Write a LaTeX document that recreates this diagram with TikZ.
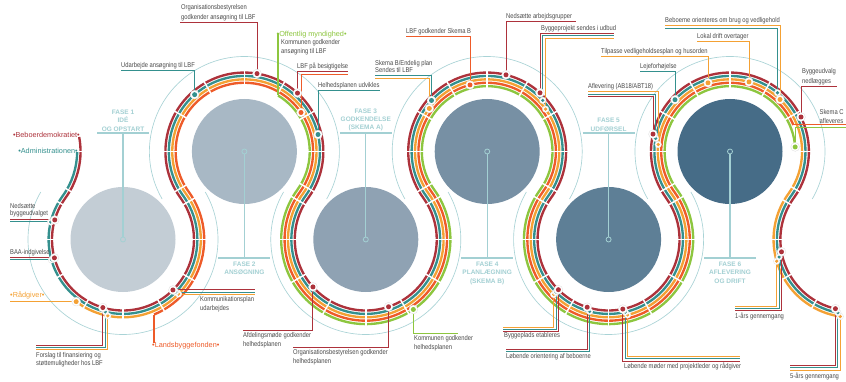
\documentclass[tikz,border=0pt]{standalone}
\usepackage{fontspec}
\setmainfont{Liberation Sans}
\newfontfamily\condf[FakeStretch=0.83]{Liberation Sans}
\usetikzlibrary{calc}
\definecolor{cRed}{HTML}{AD323B}
\definecolor{cTeal}{HTML}{34908E}
\definecolor{cOrange}{HTML}{F4A134}
\definecolor{cRedOr}{HTML}{EE5B29}
\definecolor{cGreen}{HTML}{8DC63F}
\definecolor{cRing}{HTML}{A9D3D6}
\definecolor{cPhase}{HTML}{A3D0D3}
\definecolor{cText}{HTML}{4A4A4A}
\definecolor{cA}{HTML}{C3CDD5}
\definecolor{cB}{HTML}{A8B8C5}
\definecolor{cC}{HTML}{8FA2B3}
\definecolor{cD}{HTML}{7790A4}
\definecolor{cE}{HTML}{5E7F96}
\definecolor{cF}{HTML}{466C87}
\tikzset{
  tk/.style={line width=2.35pt},
  gap/.style={white, line width=1.5pt},
  ring/.style={cRing, line width=0.65pt},
  ld/.style={line width=1pt},
  pl/.style={line width=1.4pt},
  disk/.style={circle, inner sep=0pt, minimum size=105pt},
  mk/.style={circle, draw=cPhase, line width=0.8pt, minimum size=5pt, inner sep=0pt},
  phl/.style={cPhase, line width=1.1pt},
  lab/.style={font=\condf\fontsize{7}{9}\selectfont, text=cText, inner sep=0pt, align=left},
  part/.style={font=\fontsize{7.3}{8}\selectfont, inner sep=0pt},
  phase/.style={font=\bfseries\fontsize{6.5}{8.4}\selectfont, text=cPhase, inner sep=0pt, align=center},
  dotn/.style={circle, inner sep=0pt, minimum size=8.8pt, fill=white, draw=black!12, line width=0.35pt,
    path picture={\fill[#1] (path picture bounding box.center) circle (2.5pt);}},
  dots/.style={circle, inner sep=0pt, minimum size=6.6pt, fill=white, draw=black!12, line width=0.3pt,
    path picture={\fill[#1] (path picture bounding box.center) circle (1.8pt);}},
}
\def\LA{215.94}\def\LB{-35.94}\def\HA{144.06}\def\HB{395.94}
\begin{document}
\begin{tikzpicture}[x=1pt,y=-1pt]
\useasboundingbox (0,0) rectangle (846,382);
\fill[white] (0,0) rectangle (846,382);
\coordinate (C0) at (1.6,151.5);
\coordinate (C1) at (123,239.5);
\coordinate (C2) at (244.4,151.5);
\coordinate (C3) at (365.8,239.5);
\coordinate (C4) at (487.2,151.5);
\coordinate (C5) at (608.6,239.5);
\coordinate (C6) at (730,151.5);
\coordinate (C7) at (851.4,239.5);
% rings
\foreach \c in {C1,C3,C5}{\draw[ring] ($(\c)+(210:95)$) arc[start angle=210,end angle=-30,radius=95];}
\foreach \c in {C2,C4,C6}{\draw[ring] ($(\c)+(150:95)$) arc[start angle=150,end angle=390,radius=95];}
% disks
\node[disk, fill=cA] (k1) at (C1) {};
\node[disk, fill=cB] (k2) at (C2) {};
\node[disk, fill=cC] (k3) at (C3) {};
\node[disk, fill=cD] (k4) at (C4) {};
\node[disk, fill=cE] (k5) at (C5) {};
\node[disk, fill=cF] (k6) at (C6) {};
% phase markers and labels
\node[mk, fill=cA] (m1) at (C1) {};
\node[mk, fill=cB] (m2) at (C2) {};
\node[mk, fill=cC] (m3) at (C3) {};
\node[mk, fill=cD] (m4) at (C4) {};
\node[mk, fill=cE] (m5) at (C5) {};
\node[mk, fill=cF] (m6) at (C6) {};
\coordinate (h1) at (123,133);   \coordinate (h3) at (365.8,133); \coordinate (h5) at (608.6,133);
\coordinate (h2) at (244.4,258); \coordinate (h4) at (487.2,258); \coordinate (h6) at (730,258);
\foreach \h/\m in {h1/m1,h3/m3,h5/m5}{\draw[phl] (\m.north) -- (\h); \draw[phl] ($(\h)+(-26,0)$) -- ($(\h)+(26,0)$);}
\foreach \h/\m in {h2/m2,h4/m4,h6/m6}{\draw[phl] (\m.south) -- (\h); \draw[phl] ($(\h)+(-26,0)$) -- ($(\h)+(26,0)$);}
\node[phase, anchor=south] (f1) at (123,131.5) {FASE 1\\IDÉ\\OG OPSTART};
\node[phase, anchor=north] (f2) at (244.4,261.5) {FASE 2\\ANSØGNING};
\node[phase, anchor=south] (f3) at (365.8,131.5) {FASE 3\\GODKENDELSE\\(SKEMA A)};
\node[phase, anchor=north] (f4) at (487.2,261.5) {FASE 4\\PLANLÆGNING\\(SKEMA B)};
\node[phase, anchor=south] (f5) at (608.6,131.5) {FASE 5\\UDFØRSEL};
\node[phase, anchor=north] (f6) at (730,261.5) {FASE 6\\AFLEVERING\\OG DRIFT};
% tracks
\draw[tk, cRed] ($(C0)+(-10.6:78.94)$) arc[start angle=-10.6,end angle=35.94,radius=78.94]
  arc[start angle=\LA,end angle=\LB,radius=71] arc[start angle=\HA,end angle=\HB,radius=78.94]
  arc[start angle=\LA,end angle=\LB,radius=71] arc[start angle=\HA,end angle=\HB,radius=78.94]
  arc[start angle=\LA,end angle=\LB,radius=71] arc[start angle=\HA,end angle=\HB,radius=78.94]
  arc[start angle=\LA,end angle=103,radius=71];
\draw[tk, cTeal] ($(C0)+(0:75.54)$) arc[start angle=0,end angle=35.94,radius=75.54]
  arc[start angle=\LA,end angle=\LB,radius=74.4] arc[start angle=\HA,end angle=\HB,radius=75.54]
  arc[start angle=\LA,end angle=\LB,radius=74.4] arc[start angle=\HA,end angle=\HB,radius=75.54]
  arc[start angle=\LA,end angle=\LB,radius=74.4] arc[start angle=\HA,end angle=\HB,radius=75.54]
  arc[start angle=\LA,end angle=100.53,radius=74.4];
\draw[tk, cOrange] ($(C1)+(127:77.8)$) arc[start angle=127,end angle=\LB,radius=77.8]
  arc[start angle=\HA,end angle=\HB,radius=72.14]
  arc[start angle=\LA,end angle=\LB,radius=77.8] arc[start angle=\HA,end angle=\HB,radius=72.14]
  arc[start angle=\LA,end angle=\LB,radius=77.8] arc[start angle=\HA,end angle=\HB,radius=72.14]
  arc[start angle=\LA,end angle=98.28,radius=77.8];
\draw[tk, cRedOr] ($(C1)+(67.5:81.2)$) arc[start angle=67.5,end angle=\LB,radius=81.2]
  arc[start angle=\HA,end angle=\HB,radius=68.74]
  arc[start angle=\LA,end angle=\LB,radius=81.2] arc[start angle=\HA,end angle=\HB,radius=68.74]
  arc[start angle=\LA,end angle=\LB,radius=81.2] arc[start angle=\HA,end angle=337.3,radius=68.74];
\draw[tk, cGreen] ($(C2)+(301:65.34)$) arc[start angle=301,end angle=\HB,radius=65.34]
  arc[start angle=\LA,end angle=\LB,radius=84.6] arc[start angle=\HA,end angle=\HB,radius=65.34]
  arc[start angle=\LA,end angle=\LB,radius=84.6] arc[start angle=\HA,end angle=356,radius=65.34];
% gaps
\foreach \c in {C1,C3,C5}{\foreach \a in {-30,0,...,210}{\draw[gap] ($(\c)+(\a:68.8)$) -- ($(\c)+(\a:86.8)$);}}
\foreach \c in {C2,C4,C6}{\foreach \a in {150,180,...,390}{\draw[gap] ($(\c)+(\a:63.1)$) -- ($(\c)+(\a:81.1)$);}}
\foreach \a in {0,30}{\draw[gap] ($(C0)+(\a:63.1)$) -- ($(C0)+(\a:81.1)$);}
\foreach \a in {120,150,180,210}{\draw[gap] ($(C7)+(\a:68.8)$) -- ($(C7)+(\a:86.8)$);}
% callout points
\coordinate (pNb) at (54.75,219.93);  \coordinate (pNbT) at (50.69,222);
\coordinate (pBaa) at (54.42,257.88); \coordinate (pBaaT) at (51.45,259.9);
\coordinate (pRad) at (76.18,301.63);
\coordinate (pFo) at (102.84,307.57); \coordinate (pFoT) at (105.3,311.76); \coordinate (pFoO) at (107.8,315.8);
\coordinate (pKp) at (172.94,289.97); \coordinate (pKpT) at (175.72,292); \coordinate (pKpO) at (178.52,294);
\coordinate (pLbf) at (154.07,314.5);
\coordinate (pOm) at (278.05,95.5);
\coordinate (pOa) at (257.02,73.58);
\coordinate (pUa) at (194.64,94.66);
\coordinate (pBe) at (297.5,93.09);   \coordinate (pBeR) at (301,112.5);
\coordinate (pHu) at (318,134.5);
\coordinate (pAf) at (312.95,286.91);
\coordinate (pOh) at (388.56,306.75);
\coordinate (pKh) at (413.35,309.47);
\coordinate (pSbT) at (431.5,100.47); \coordinate (pSbO) at (429.3,108.47);
\coordinate (pLb) at (470,84.95);
\coordinate (pNa) at (506,74.83);
\coordinate (pBu) at (540,92.82);     \coordinate (pBuT) at (542.8,100.36); \coordinate (pBuO) at (545.6,109.15);
\coordinate (pBp) at (558.4,289.7);   \coordinate (pBpT) at (556,292.12);   \coordinate (pBpO) at (553.6,294.53);
\coordinate (pLo) at (587.2,307.2);   \coordinate (pLoT) at (589.6,311.43);
\coordinate (pLm) at (622.8,309.07);  \coordinate (pLmT) at (625.2,312.02); \coordinate (pLmO) at (627.6,314.94);
\coordinate (pAb) at (653,134.1);     \coordinate (pAbT) at (655.6,138.4);  \coordinate (pAbO) at (658.2,144.5);
\coordinate (pLe) at (675,99.72);
\coordinate (pTi) at (708,82.8);
\coordinate (pLd) at (749,81.91);
\coordinate (pBoO) at (780,99.5);     \coordinate (pBoT) at (777.5,92.76);
\coordinate (pBn) at (801,117);
\coordinate (pScG) at (795.18,146.94); \coordinate (pScR) at (793.42,124.97);
\coordinate (p1R) at (781.48,251.83); \coordinate (p1T) at (779.1,257.05); \coordinate (p1O) at (776.7,261.24);
\coordinate (p5R) at (835.43,308.68); \coordinate (p5T) at (837.8,312.65); \coordinate (p5O) at (840.2,316.49);
% leaders
\draw[ld,cTeal] (pNbT) -- (10,222);
\draw[ld,cRed] (pNb) -- (10,219.93);
\draw[ld,cTeal] (pBaaT) -- (10,259.9);
\draw[ld,cRed] (pBaa) -- (10,257.88);
\draw[ld,cOrange] (pRad) -- (10,301.63);
\draw[ld,cOrange] (pFoO) |- (36,349);
\draw[ld,cTeal] (pFoT) |- (36,347);
\draw[ld,cRed] (pFo) |- (36,345);
\draw[ld,cOrange] (pKpO) -- (255,294);
\draw[ld,cTeal] (pKpT) -- (255,292);
\draw[ld,cRed] (pKp) -- (255,289.97);
\draw[pl,cRedOr] (pLbf) -- (154.07,343);
\draw[pl,cGreen] (pOm) -- (278.05,33.5);
\draw[ld,cRed] (pOa) |- (180,23);
\draw[ld,cTeal] (pUa) |- (121,71);
\draw[ld,cRedOr] (pBeR) |- (348,74.5);
\draw[ld,cRed] (pBe) |- (348,72);
\draw[ld,cTeal] (pHu) |- (380,91);
\draw[ld,cRed] (pAf) |- (243,330);
\draw[ld,cRed] (pOh) |- (293,347);
\draw[ld,cGreen] (pKh) |- (458,333);
\draw[ld,cOrange] (pSbO) |- (375,78.5);
\draw[ld,cTeal] (pSbT) |- (375,76);
\draw[ld,cRedOr] (pLb) |- (406,37);
\draw[ld,cRed] (pNa) |- (576,21.7);
\draw[ld,cOrange] (pBuO) |- (614,38.5);
\draw[ld,cTeal] (pBuT) |- (614,36);
\draw[ld,cRed] (pBu) |- (614,33.5);
\draw[ld,cOrange] (pBpO) |- (503,327);
\draw[ld,cTeal] (pBpT) |- (503,329);
\draw[ld,cRed] (pBp) |- (503,331);
\draw[ld,cTeal] (pLoT) |- (506,351.6);
\draw[ld,cRed] (pLo) |- (506,349.3);
\draw[ld,cOrange] (pLmO) |- (740,356.3);
\draw[ld,cTeal] (pLmT) |- (740,358.6);
\draw[ld,cRed] (pLm) |- (740,361);
\draw[ld,cOrange] (pAbO) |- (588,92);
\draw[ld,cTeal] (pAbT) |- (588,94.5);
\draw[ld,cRed] (pAb) |- (588,97);
\draw[ld,cTeal] (pLe) |- (640,72);
\draw[ld,cOrange] (pTi) |- (601,57);
\draw[ld,cOrange] (pLd) |- (697,42);
\draw[ld,cTeal] (pBoT) |- (665,28.5);
\draw[ld,cOrange] (pBoO) |- (665,26);
\draw[ld,cRed] (pBn) |- (837,87);
\draw[ld,cGreen] (pScG) |- (846,127.5);
\draw[ld,cRedOr] (pScR) -- (846,124.97);
\draw[ld,cOrange] (p1O) |- (735,306);
\draw[ld,cTeal] (p1T) |- (735,308);
\draw[ld,cRed] (p1R) |- (735,310);
\draw[ld,cOrange] (p5O) |- (790,370);
\draw[ld,cTeal] (p5T) |- (790,367.5);
\draw[ld,cRed] (p5R) |- (790,365);
% dots
\node[dots=cTeal] (dNbT) at (pNbT) {};   \node[dotn=cRed] (dNb) at (pNb) {};
\node[dots=cTeal] (dBaaT) at (pBaaT) {}; \node[dotn=cRed] (dBaa) at (pBaa) {};
\node[dotn=cOrange] (dRad) at (pRad) {};
\node[dots=cOrange] (dFoO) at (pFoO) {}; \node[dots=cTeal] (dFoT) at (pFoT) {}; \node[dotn=cRed] (dFo) at (pFo) {};
\node[dots=cOrange] (dKpO) at (pKpO) {}; \node[dots=cTeal] (dKpT) at (pKpT) {}; \node[dotn=cRed] (dKp) at (pKp) {};
\node[dotn=cRed] (dOa) at (pOa) {};
\node[dotn=cTeal] (dUa) at (pUa) {};
\node[dotn=cRedOr] (dBeR) at (pBeR) {}; \node[dotn=cRed] (dBe) at (pBe) {};
\node[dotn=cTeal] (dHu) at (pHu) {};
\node[dotn=cRed] (dAf) at (pAf) {};
\node[dotn=cRed] (dOh) at (pOh) {};
\node[dotn=cGreen] (dKh) at (pKh) {};
\node[dotn=cOrange] (dSbO) at (pSbO) {}; \node[dotn=cTeal] (dSbT) at (pSbT) {};
\node[dotn=cRedOr] (dLb) at (pLb) {};
\node[dotn=cRed] (dNa) at (pNa) {};
\node[dots=cOrange] (dBuO) at (pBuO) {}; \node[dots=cTeal] (dBuT) at (pBuT) {}; \node[dotn=cRed] (dBu) at (pBu) {};
\node[dots=cOrange] (dBpO) at (pBpO) {}; \node[dots=cTeal] (dBpT) at (pBpT) {}; \node[dotn=cRed] (dBp) at (pBp) {};
\node[dots=cTeal] (dLoT) at (pLoT) {}; \node[dotn=cRed] (dLo) at (pLo) {};
\node[dots=cOrange] (dLmO) at (pLmO) {}; \node[dots=cTeal] (dLmT) at (pLmT) {}; \node[dotn=cRed] (dLm) at (pLm) {};
\node[dots=cOrange] (dAbO) at (pAbO) {}; \node[dots=cTeal] (dAbT) at (pAbT) {}; \node[dotn=cRed] (dAb) at (pAb) {};
\node[dotn=cTeal] (dLe) at (pLe) {};
\node[dotn=cOrange] (dTi) at (pTi) {};
\node[dotn=cOrange] (dLd) at (pLd) {};
\node[dots=cTeal] (dBoT) at (pBoT) {}; \node[dotn=cOrange] (dBoO) at (pBoO) {};
\node[dotn=cRed] (dBn) at (pBn) {};
\node[dotn=cGreen] (dScG) at (pScG) {};
\node[dots=cOrange] (d1O) at (p1O) {}; \node[dots=cTeal] (d1T) at (p1T) {}; \node[dotn=cRed] (d1R) at (p1R) {};
\node[dots=cOrange] (d5O) at (p5O) {}; \node[dots=cTeal] (d5T) at (p5T) {}; \node[dotn=cRed] (d5R) at (p5R) {};
% participant labels
\node[part, text=cRed, anchor=base east] (lBd) at (80,137.5) {•Beboerdemokratiet•};
\node[part, text=cTeal, anchor=base east] (lAd) at (78,153.5) {•Administrationen•};
\node[part, text=cOrange, anchor=south west] (lRad) at (10,299.6) {•Rådgiver•};
\node[part, text=cRedOr, anchor=base west] (lLbf) at (152,347.8) {•Landsbyggefonden•};
\node[part, text=cGreen, anchor=base west] (lOm) at (276.5,36.5) {•Offentlig myndighed•};
% labels
\node[lab, anchor=south west, font=\condf\fontsize{7}{6.6}\selectfont] (lNb) at (10,216.8) {Nedsætte\\byggeudvalget};
\node[lab, anchor=south west] (lBaa) at (10,256.3) {BAA-indgivelse};
\node[lab, anchor=north west, font=\condf\fontsize{7}{8.3}\selectfont] (lFo) at (36,352) {Forslag til finansiering og\\støttemuligheder hos LBF};
\node[lab, anchor=north west] (lKp) at (200,296) {Kommunikationsplan\\udarbejdes};
\node[lab, anchor=south west, font=\condf\fontsize{7}{10}\selectfont] (lOa) at (181,21.5) {Organisationsbestyrelsen\\godkender ansøgning til LBF};
\node[lab, anchor=south west] (lUa) at (121,69.5) {Udarbejde ansøgning til LBF};
\node[lab, anchor=north west] (lKa) at (281,39.5) {Kommunen godkender\\ansøgning til LBF};
\node[lab, anchor=south west] (lBe) at (297,70.5) {LBF på besigtigelse};
\node[lab, anchor=south west] (lHu) at (318,89.5) {Helhedsplanen udvikles};
\node[lab, anchor=north west, font=\condf\fontsize{7}{8.4}\selectfont] (lAf) at (243,332.5) {Afdelingsmøde godkender\\helhedsplanen};
\node[lab, anchor=north west] (lOh) at (293,349.5) {Organisationsbestyrelsen godkender\\helhedsplanen};
\node[lab, anchor=north west] (lKh) at (414,335.5) {Kommunen godkender\\helhedsplanen};
\node[lab, anchor=south west, font=\condf\fontsize{7}{7}\selectfont] (lSb) at (375,72.8) {Skema B/Endelig plan\\Sendes til LBF};
\node[lab, anchor=south west] (lLb) at (406,35.5) {LBF godkender Skema B};
\node[lab, anchor=south west] (lNa) at (506,20.2) {Nedsætte arbejdsgrupper};
\node[lab, anchor=south west] (lBu) at (541,32) {Byggeprojekt sendes i udbud};
\node[lab, anchor=north west] (lBp) at (504,332.5) {Byggeplads etableres};
\node[lab, anchor=north west] (lLo) at (506,353.5) {Løbende orientering af beboerne};
\node[lab, anchor=north west] (lLm) at (624,363) {Løbende møder med projektleder og rådgiver};
\node[lab, anchor=south west] (lTi) at (601,55.5) {Tilpasse vedligeholdsesplan og husorden};
\node[lab, anchor=south west] (lLe) at (640,70.5) {Lejeforhøjelse};
\node[lab, anchor=south west] (lAb) at (588,90.3) {Aflevering (AB18/ABT18)};
\node[lab, anchor=south west] (lBo) at (665,24.5) {Beboerne orienteres om brug og vedligehold};
\node[lab, anchor=south west] (lLd) at (697,40.5) {Lokal drift overtager};
\node[lab, anchor=south west, font=\condf\fontsize{7}{10}\selectfont] (lBn) at (802,85.5) {Byggeudvalg\\nedlægges};
\node[lab, anchor=south west, font=\condf\fontsize{7}{8.4}\selectfont] (lSc) at (819.5,123.3) {Skema C\\afleveres};
\node[lab, anchor=north west] (l1) at (735,312.5) {1-års gennemgang};
\node[lab, anchor=north west] (l5) at (790,373) {5-års gennemgang};
\end{tikzpicture}
\end{document}
